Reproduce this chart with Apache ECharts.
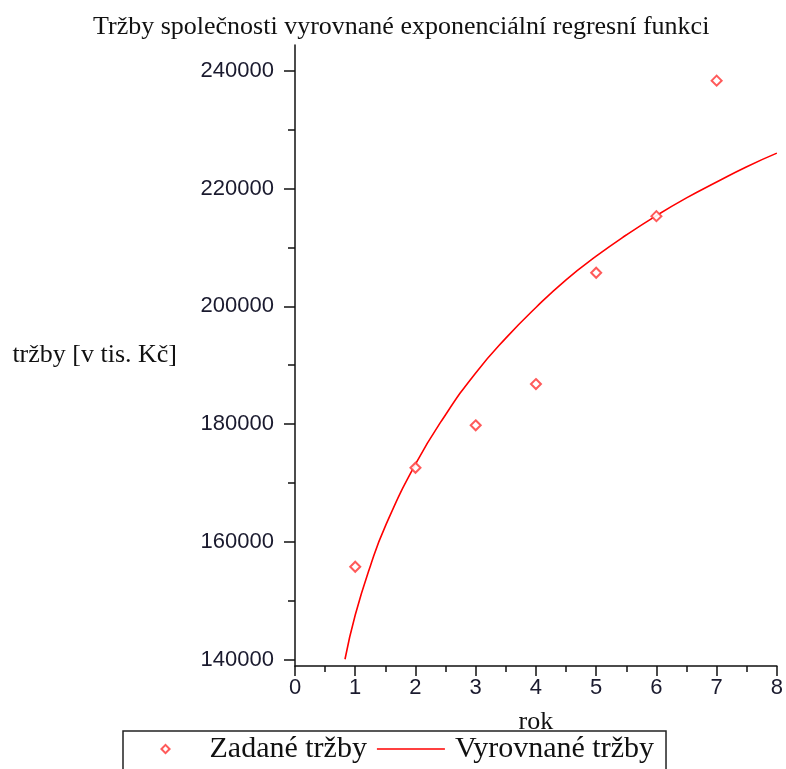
<!DOCTYPE html>
<html>
<head>
<meta charset="utf-8">
<script src="https://cdn.jsdelivr.net/npm/echarts@6/dist/echarts.min.js"></script>
<style>
html,body{margin:0;padding:0;background:#fff;}
#chart{width:786px;height:769px;}
</style>
</head>
<body>
<div id="chart"></div>
<script>
// Data
const years = [1, 2, 3, 4, 5, 6, 7];
const sales = [155800, 172600, 179800, 186800, 205700, 215300, 238300];
const fitX = [0.83, 1, 1.25, 1.5, 2, 2.5, 3, 3.5, 4, 4.5, 5, 5.5, 6, 6.5, 7, 7.5, 8];
const fitY = [140100, 147600, 155900, 162700, 173200, 181600, 188700, 194600, 199800, 204500, 208500, 212100, 215400, 218400, 221100, 223700, 226000];
const yMajorTicks = [140000, 160000, 180000, 200000, 220000, 240000];
const yMinorTicks = [150000, 170000, 190000, 210000, 230000];
const titleText = 'Tržby společnosti vyrovnané exponenciální regresní funkci';
const seriesNames = ['Zadané tržby', 'Vyrovnané tržby'];

const chart = echarts.init(document.getElementById('chart'), null, {renderer: 'canvas'});
const serif = '"Liberation Serif", "Times New Roman", serif';
const sans = '"Liberation Sans", Arial, sans-serif';
const yMin = 138950, yMax = 244350;
const red = '#ff0000';
const markRed = '#ff4848';
const diamondIcon = 'path://M5,0 L10,5 L5,10 L0,5 Z M5,2.6 L2.6,5 L5,7.4 L7.4,5 Z';
const lineIcon = 'path://M0,0 L68,0 L68,1.6 L0,1.6 Z';

chart.setOption({
  backgroundColor: '#ffffff',
  animation: false,
  title: {
    text: titleText,
    left: 88,
    top: 9,
    textStyle: {fontFamily: serif, fontSize: 26, fontWeight: 'normal', color: '#111'}
  },
  legend: {
    data: [
      {name: seriesNames[0], icon: diamondIcon, itemStyle: {color: markRed, borderWidth: 0}},
      {name: seriesNames[1], icon: lineIcon, itemStyle: {color: red, borderWidth: 0}}
    ],
    symbolKeepAspect: true,
    left: 123,
    top: 731,
    padding: [3, 12, 10, 37],
    itemWidth: 68,
    itemHeight: 11,
    itemGap: 10,
    borderColor: '#222',
    borderWidth: 1.5,
    textStyle: {fontFamily: serif, fontSize: 30, color: '#111', padding: [0, 0, 0, 5]}
  },
  grid: {left: 295, right: 6, top: 45, bottom: 103, containLabel: false},
  xAxis: {
    type: 'value',
    min: 0, max: 8, interval: 1,
    name: 'rok',
    nameLocation: 'middle',
    nameGap: 43,
    nameTextStyle: {fontFamily: serif, fontSize: 26, color: '#111'},
    axisLine: {onZero: false, lineStyle: {color: '#111', width: 1.5}},
    axisTick: {show: true, inside: false, length: 10, lineStyle: {color: '#111', width: 1.5}},
    minorTick: {show: true, splitNumber: 2, length: 6, lineStyle: {color: '#111', width: 1.5}},
    axisLabel: {fontFamily: sans, fontSize: 22, color: '#1a1a2e', margin: 11},
    splitLine: {show: false}
  },
  yAxis: [
    {
      type: 'value',
      min: yMin, max: yMax,
      name: 'tržby [v tis. Kč]',
      nameLocation: 'middle',
      nameRotate: 0,
      nameGap: 118,
      nameTextStyle: {fontFamily: serif, fontSize: 26, color: '#111'},
      axisLine: {show: true, lineStyle: {color: '#111', width: 1.5}},
      axisTick: {show: true, inside: false, length: 11, customValues: yMajorTicks, lineStyle: {color: '#111', width: 1.5}},
      axisLabel: {fontFamily: sans, fontSize: 22, color: '#1a1a2e', margin: 21, customValues: yMajorTicks,
        formatter: v => String(v)},
      splitLine: {show: false}
    },
    {
      type: 'value',
      min: yMin, max: yMax,
      position: 'left',
      axisLine: {show: false},
      axisTick: {show: true, inside: false, length: 7, customValues: yMinorTicks, lineStyle: {color: '#111', width: 1.5}},
      axisLabel: {show: false, customValues: yMinorTicks},
      splitLine: {show: false}
    }
  ],
  series: [
    {
      name: seriesNames[0],
      type: 'scatter',
      symbol: 'emptyDiamond',
      symbolSize: 10,
      itemStyle: {color: markRed, borderColor: markRed, borderWidth: 3, opacity: 0.9},
      data: years.map((x, i) => [x, sales[i]]),
      z: 3
    },
    {
      name: seriesNames[1],
      type: 'line',
      symbol: 'none',
      smooth: 0.5,
      lineStyle: {color: red, width: 1.6},
      itemStyle: {color: red},
      data: fitX.map((x, i) => [x, fitY[i]]),
      z: 2
    }
  ]
});
</script>
</body>
</html>
